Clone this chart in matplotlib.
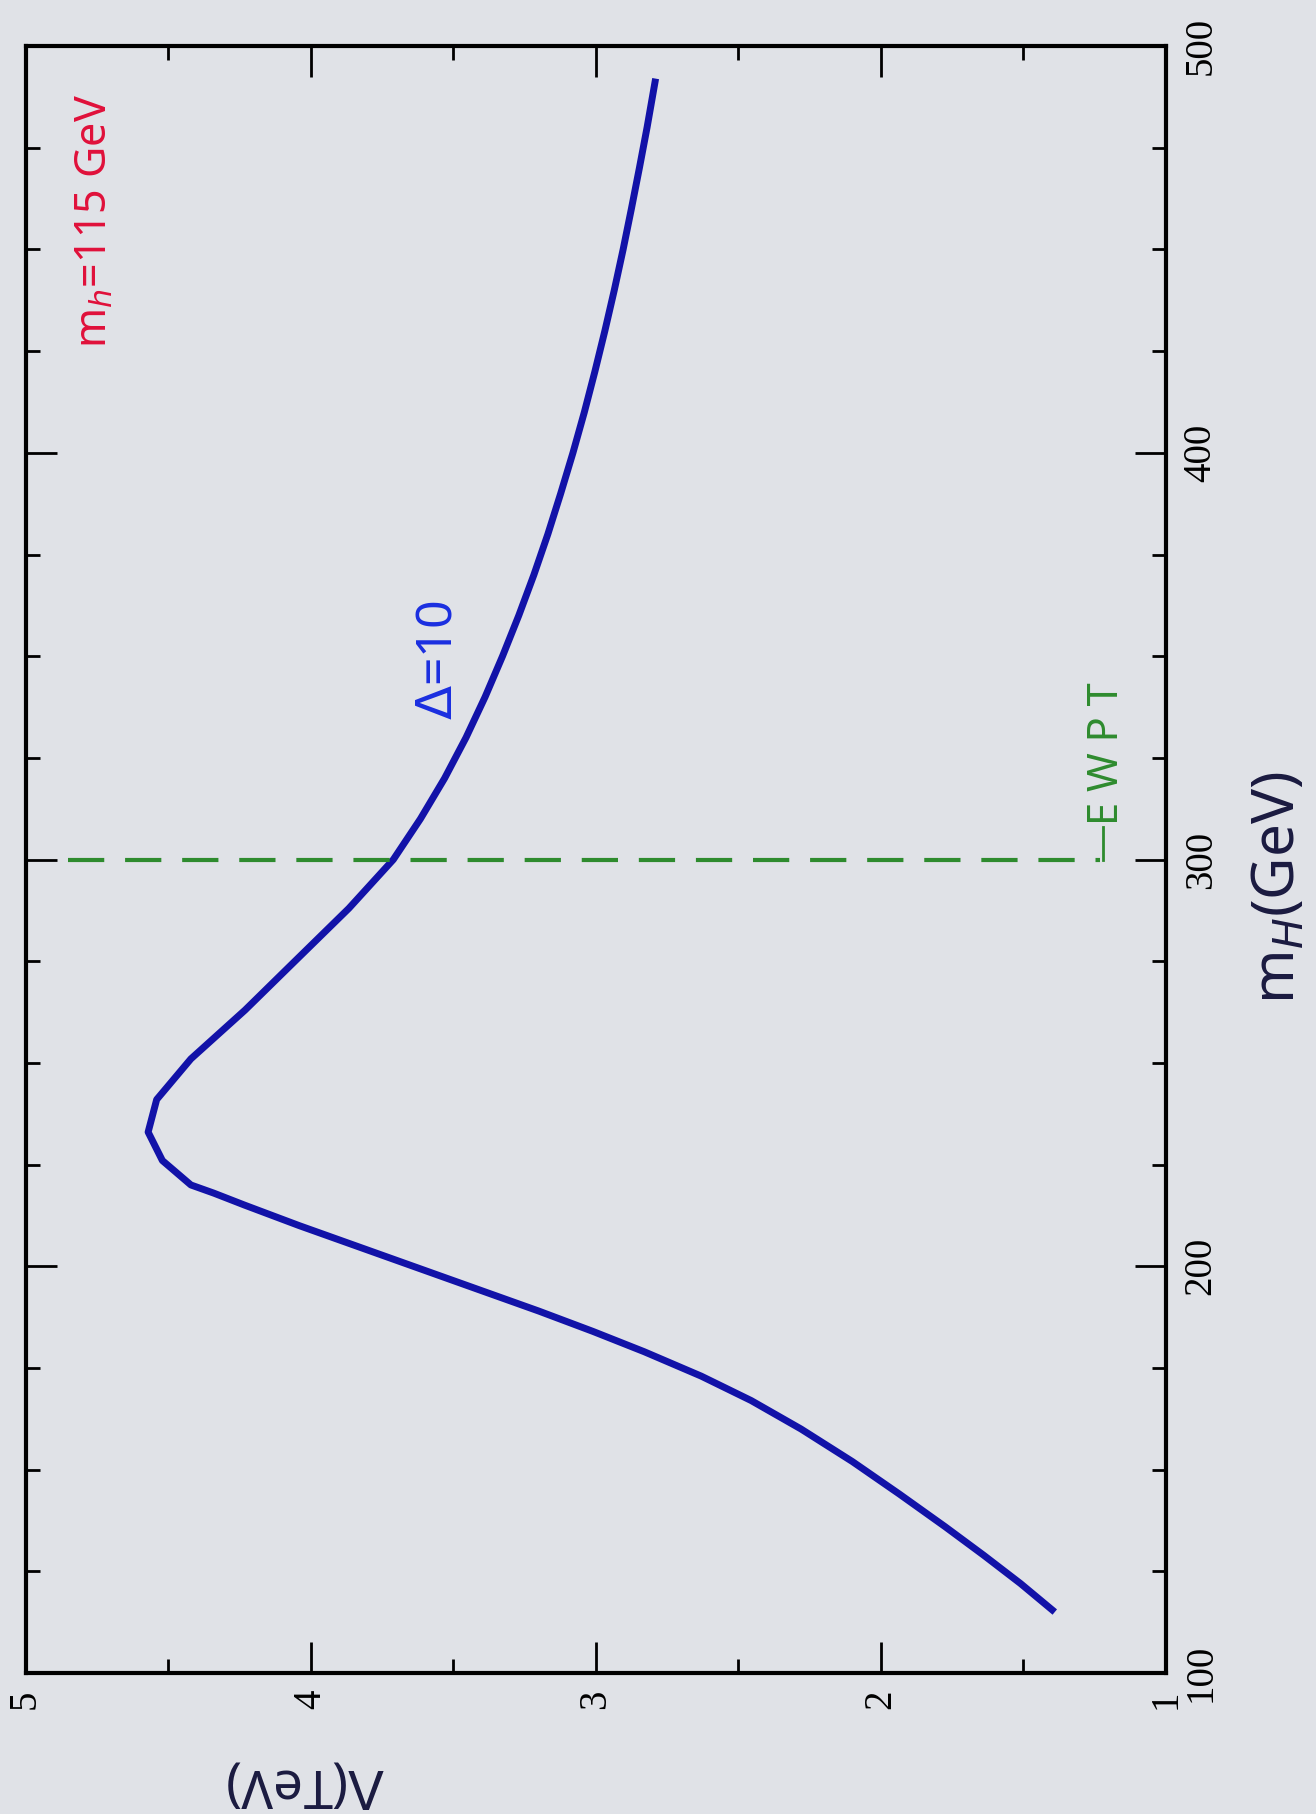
import numpy as np
import matplotlib.pyplot as plt

m_higgs = [115, 122, 129, 136, 144, 152, 160, 167, 173, 179, 184, 189, 194,
           199, 205, 210, 215, 218, 220, 226, 233, 241, 251, 263, 274, 288,
           300, 310, 320, 330, 340, 350, 360, 370, 380, 390, 400, 410, 420,
           430, 440, 450, 460, 470, 480, 492]
lam = [1.39, 1.51, 1.64, 1.775, 1.935, 2.10, 2.28, 2.455, 2.63, 2.83, 3.01, 3.20, 3.40,
       3.60, 3.84, 4.04, 4.23, 4.34, 4.42, 4.52, 4.57, 4.54, 4.42, 4.23, 4.07, 3.866,
       3.71, 3.615, 3.53, 3.455, 3.388, 3.327, 3.27, 3.217, 3.168, 3.123, 3.08, 3.04, 3.003,
       2.968, 2.935, 2.904, 2.875, 2.847, 2.82, 2.79]

ewpt_mass = 300
ewpt_lam = [4.85, 1.23]

lam_ticks = [5, 4, 3, 2, 1]
mass_ticks = [100, 200, 300, 400, 500]

paper = '#e0e2e7'
hand = 'Noto Sans'

if __name__ == "__main__":
    plt.rcParams['font.family'] = 'Liberation Serif'

    fig = plt.figure(figsize=(13.16, 18.14), dpi=100, facecolor=paper)
    # the page is scanned sideways: Lambda runs right->left, m_H bottom->top
    ax = fig.add_axes([0.0194, 0.0777, 0.8666, 0.8969], facecolor=paper)

    ax.plot(lam, m_higgs, color='#1212a8', lw=5, solid_capstyle='butt',
            solid_joinstyle='round')
    ax.plot(ewpt_lam, [ewpt_mass, ewpt_mass], color='#2e8b2e', lw=3,
            linestyle=(0, (8.7, 5)))
    ax.plot([1.22, 1.22], [ewpt_mass, 308], color='#2e8b2e', lw=2)

    ax.set_xlim(5, 1)
    ax.set_ylim(100, 500)

    ax.set_xticks(lam_ticks)
    ax.set_xticks(np.arange(1.5, 5, 1.0), minor=True)
    ax.set_yticks(mass_ticks)
    ax.set_yticks(np.arange(125, 500, 25), minor=True)

    ax.tick_params(which='both', direction='in', top=True, bottom=True,
                   left=True, right=True, labelleft=False, labelright=True,
                   color='black', width=2)
    ax.tick_params(which='major', length=22, pad=12, labelsize=28,
                   labelfontfamily='Liberation Serif')
    ax.tick_params(which='minor', length=10)
    for lbl in ax.get_xticklabels() + ax.get_yticklabels():
        lbl.set_rotation(90)
    for lbl in ax.get_yticklabels():
        lbl.set_verticalalignment('center')
    for sp in ax.spines.values():
        sp.set_linewidth(3)

    # handwritten notes
    ax.text(4.756, 457, r'm$_h$=115 GeV', color='#e0103a', rotation=90,
            fontsize=31, ha='center', va='center', family=hand)
    ax.text(3.55, 349, r'$\Delta$=10', color='#1a2ee0', rotation=90,
            fontsize=36, ha='center', va='center', family=hand)
    ax.text(1.207, 326, 'E W P T', color='#2e8b2e', rotation=90,
            fontsize=30, ha='center', va='center', family=hand)

    fig.text(1278 / 1316, 1 - 888 / 1814, r'm$_H$(GeV)', color='#1a1a40',
             rotation=90, fontsize=42, ha='center', va='center', family=hand)
    fig.text(306 / 1316, 1 - 1783 / 1814, r'$\Lambda$(TeV)', color='#1a1a40',
             rotation=180, fontsize=38, ha='center', va='center', family=hand)

    fig.savefig('out.png', dpi=100, facecolor=paper)
